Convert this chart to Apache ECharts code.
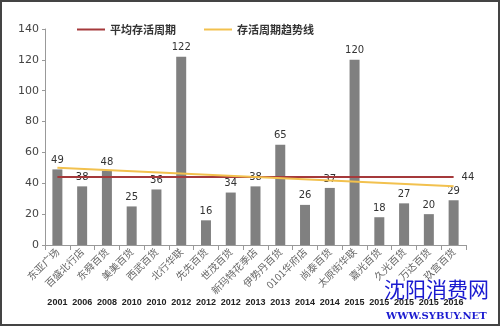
<!DOCTYPE html>
<html><head><meta charset="utf-8">
<script src="https://cdn.jsdelivr.net/npm/echarts@6/dist/echarts.min.js"></script>
<style>html,body{margin:0;padding:0;background:#fff}#c{width:500px;height:326px;box-sizing:border-box;border:2px solid #444}</style>
</head><body><div id="c"></div>
<script>
const names = ['东亚广场','百盛北行店','东舜百货','美美百货','西武百货','北行华联','先先百货','世茂百货','新玛特花季店','伊势丹百货','0101华府店','尚泰百货','太原街华联','嘉光百货','久光百货','万达百货','玖宫百货'];
const years = ['2001','2006','2008','2010','2010','2012','2012','2012','2013','2013','2014','2014','2015','2015','2015','2015','2016'];
const survival = [49,38,48,25,36,122,16,34,38,65,26,37,120,18,27,20,29];
const average = [44,44,44,44,44,44,44,44,44,44,44,44,44,44,44,44,44];
const trend = [50,null,null,null,null,null,null,null,null,null,null,null,null,null,null,null,38];
const yTicks = {min:0, max:140, interval:20};

const chart = echarts.init(document.getElementById('c'));
chart.setOption({
  animation:false,
  legend:{top:17,left:70,itemWidth:28,itemHeight:2,itemGap:28,icon:'rect',
    textStyle:{fontFamily:'Noto Sans CJK SC',fontSize:11,fontWeight:'bold',color:'#333'},
    data:['平均存活周期','存活周期趋势线']},
  grid:{left:43,right:32,top:27,bottom:79},
  xAxis:[{type:'category',data:names,
    axisLine:{lineStyle:{color:'#999'}},axisTick:{show:true,alignWithLabel:false,lineStyle:{color:'#999'}},
    axisLabel:{rotate:45,interval:0,fontSize:10,color:'#666',fontFamily:'Noto Sans CJK SC',margin:5}},
   {type:'category',data:years,position:'bottom',offset:53,
    axisLine:{show:false},axisTick:{show:false},
    axisLabel:{interval:0,fontSize:9,fontWeight:'bold',color:'#222',fontFamily:'Liberation Sans',margin:0}}],
  yAxis:{type:'value',min:yTicks.min,max:yTicks.max,interval:yTicks.interval,
    splitLine:{show:false},axisLine:{show:true,lineStyle:{color:'#999'}},axisTick:{show:true,length:3,lineStyle:{color:'#999'}},
    axisLabel:{fontSize:11,color:'#444',margin:6,fontFamily:'DejaVu Sans'}},
  series:[
    {type:'bar',data:survival,barWidth:10,itemStyle:{color:'#808080'},
      label:{show:true,position:'top',fontSize:10,color:'#333',distance:4,fontFamily:'DejaVu Sans'}},
    {name:'平均存活周期',type:'line',data:average,symbol:'none',z:3,
      lineStyle:{color:'#a5393b',width:2},itemStyle:{color:'#a5393b'},
      endLabel:{show:true,formatter:'{c}',fontSize:10,color:'#333',distance:8,fontFamily:'DejaVu Sans'}},
    {name:'存活周期趋势线',type:'line',data:trend,connectNulls:true,symbol:'none',z:4,
      lineStyle:{color:'#f2c14e',width:2},itemStyle:{color:'#f2c14e'}}
  ],
  graphic:[
    {type:'text',left:382,top:277,style:{text:'沈阳消费网',fontSize:21,fontFamily:'Noto Sans CJK SC',fill:'#1a1ad0'}},
    {type:'text',left:384,top:309,style:{text:'WWW.SYBUY.NET',fontSize:10,fontWeight:'bold',fontFamily:'DejaVu Serif',fill:'#1a1ad0'}}
  ]
});
</script></body></html>
